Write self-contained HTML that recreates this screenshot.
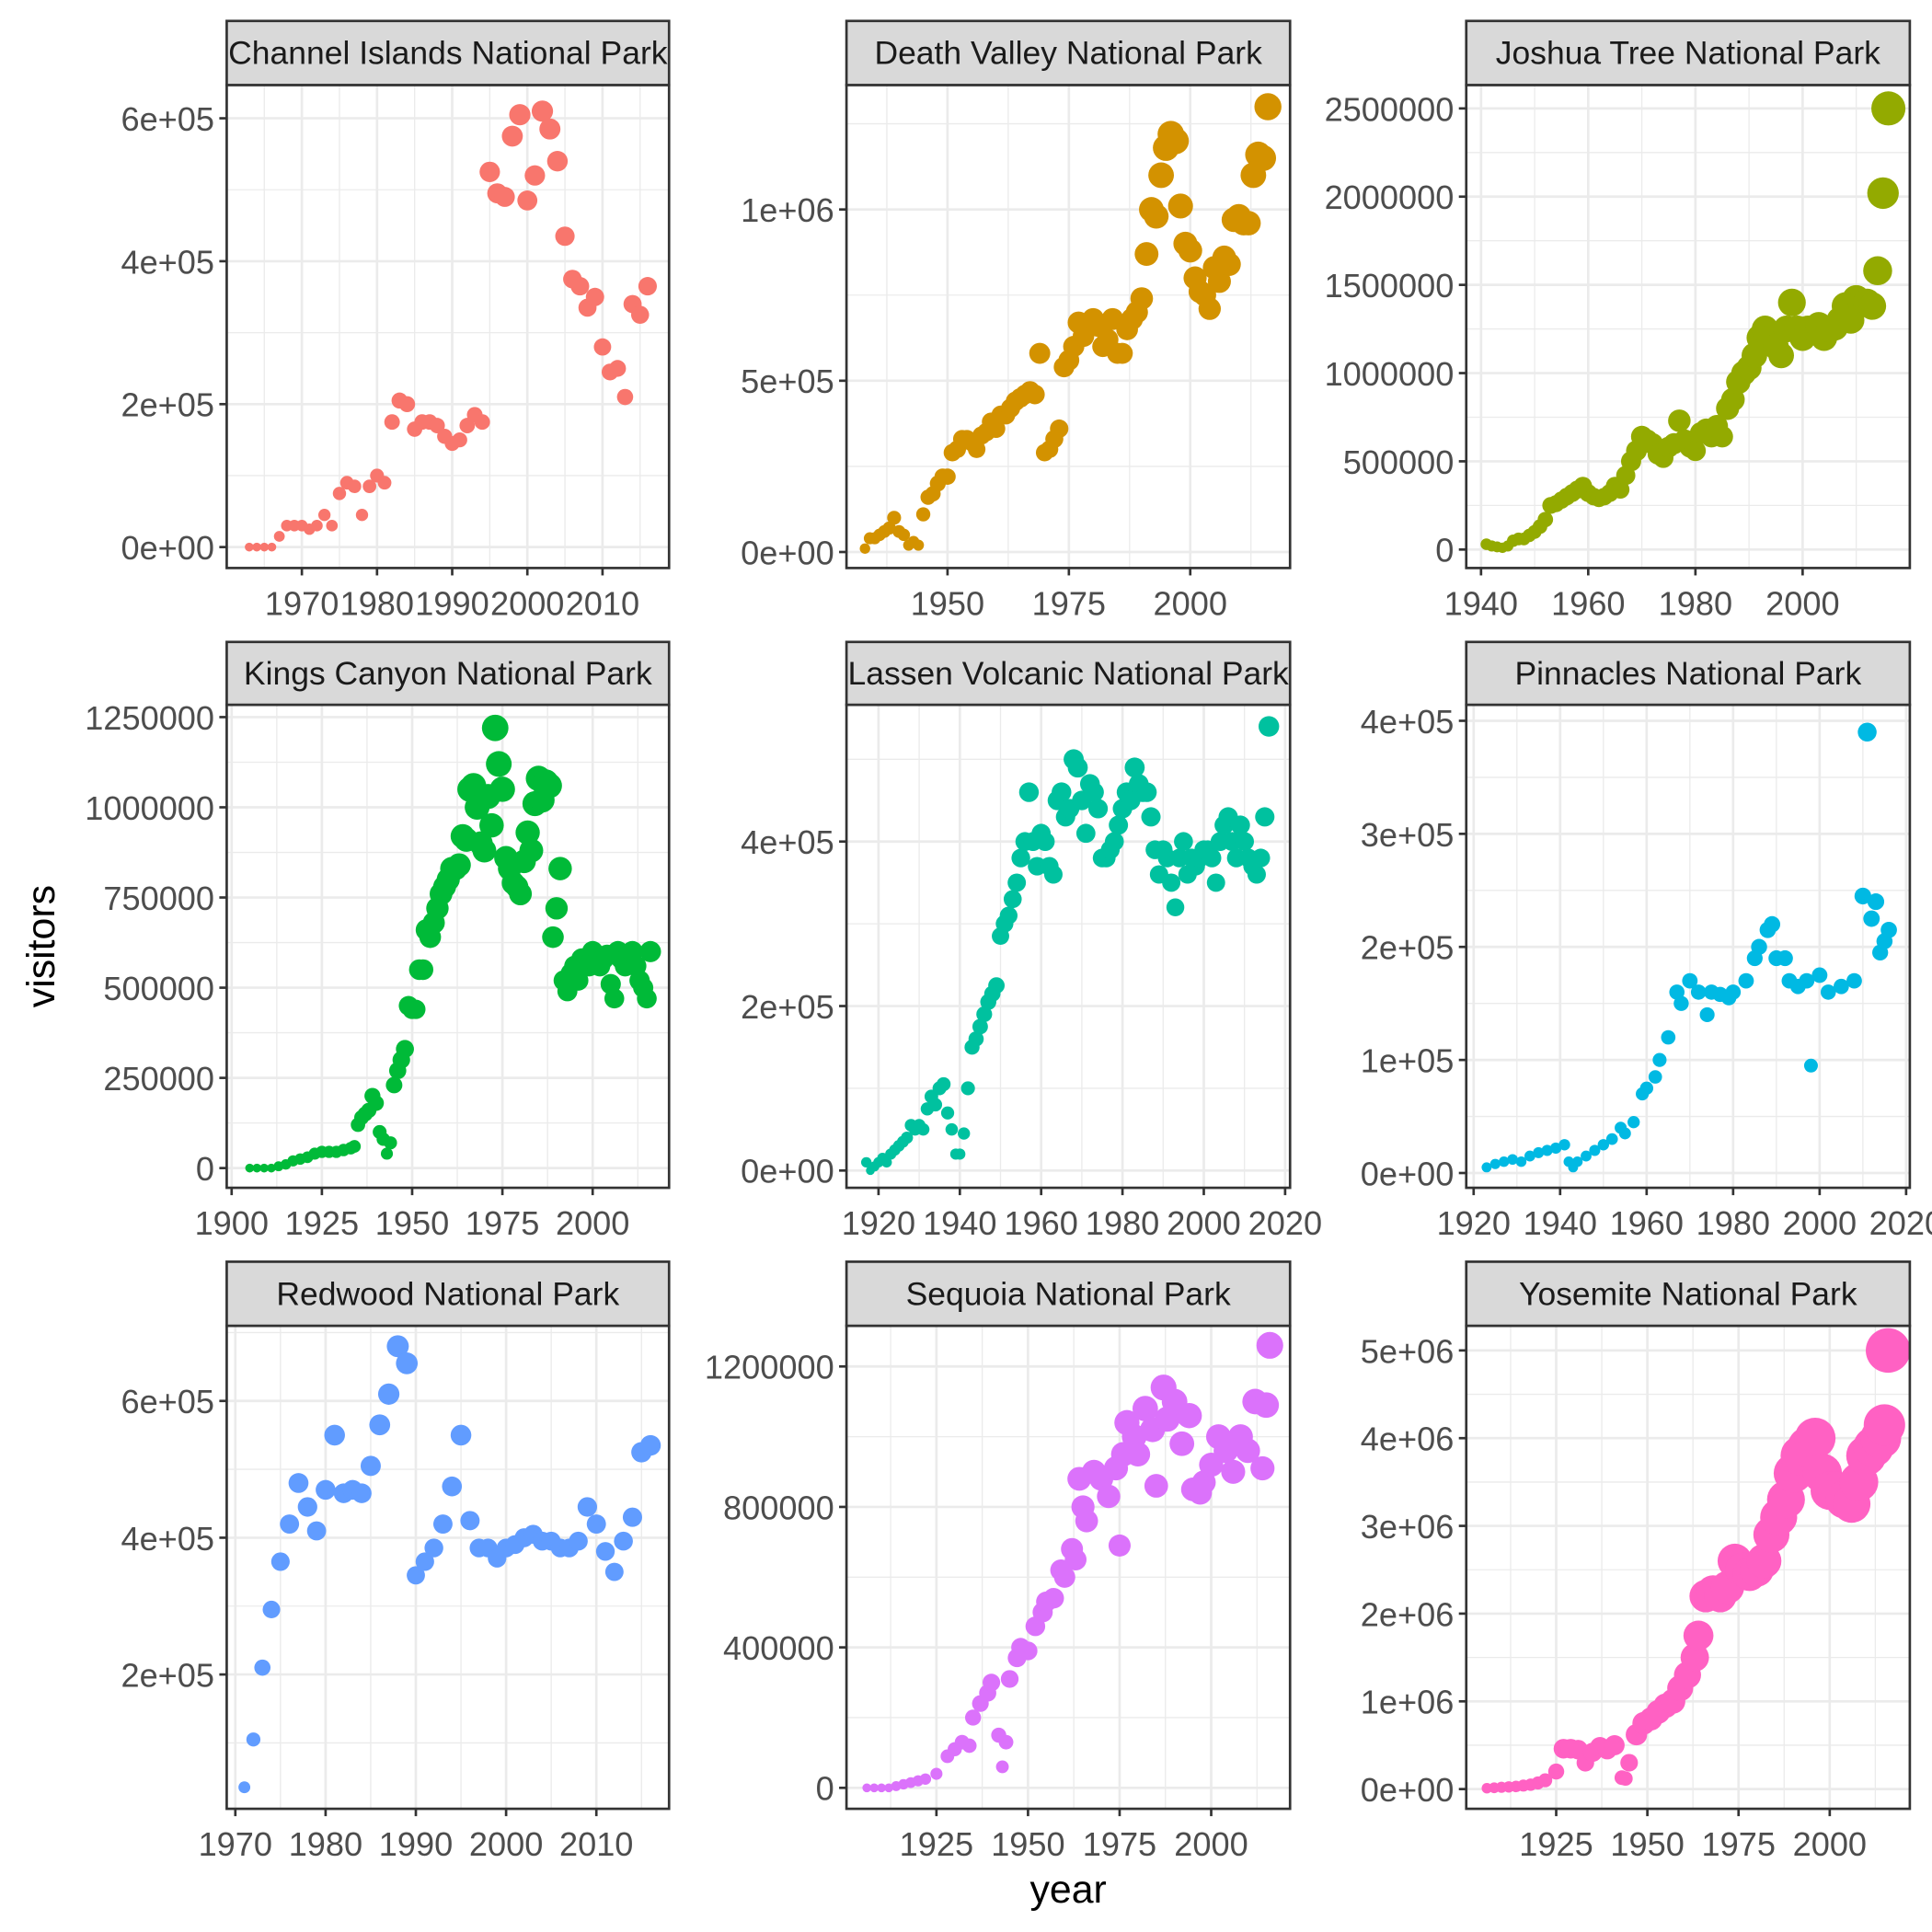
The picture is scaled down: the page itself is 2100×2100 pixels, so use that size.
<!DOCTYPE html>
<html><head><meta charset="utf-8"><style>
html,body{margin:0;padding:0;background:#fff;}
svg{display:block;font-family:"Liberation Sans",Arial,sans-serif;}
</style></head><body>
<svg id="chart" width="2100" height="2100" viewBox="0 0 1568 1568" xmlns="http://www.w3.org/2000/svg">
<rect x="0" y="0" width="1568" height="1568" fill="#fff"/>
<text x="0" y="0" transform="translate(44,768) rotate(-90)" text-anchor="middle" font-size="32" fill="#000">visitors</text>
<text x="867" y="1544" text-anchor="middle" font-size="32" fill="#000">year</text>
</svg>
<script>
// ---- data ----
const chYears=[1963,1964,1965,1966,1967,1968,1969,1970,1971,1972,1973,1974,1975,1976,1977,1978,1979,1980,1981,1982,1983,1984,1985,1986,1987,1988,1989,1990,1991,1992,1993,1994,1995,1996,1997,1998,1999,2000,2001,2002,2003,2004,2005,2006,2007,2008,2009,2010,2011,2012,2013,2014,2015,2016];
const chVisitors=[0,0,0,0,15000,30000,30000,30000,25000,30000,45000,30000,75000,90000,85000,45000,85000,100000,90000,175000,205000,200000,165000,175000,175000,170000,155000,145000,150000,170000,185000,175000,525000,495000,490000,575000,605000,485000,520000,610000,585000,540000,435000,375000,365000,335000,350000,280000,245000,250000,210000,340000,325000,365000];
const dvYears=[1933,1934,1935,1936,1937,1938,1939,1940,1941,1942,1943,1944,1945,1946,1947,1948,1949,1950,1951,1952,1953,1954,1955,1956,1957,1958,1959,1960,1961,1962,1963,1964,1965,1966,1967,1968,1969,1970,1971,1972,1973,1974,1975,1976,1977,1978,1979,1980,1981,1982,1983,1984,1985,1986,1987,1988,1989,1990,1991,1992,1993,1994,1995,1996,1997,1998,1999,2000,2001,2002,2003,2004,2005,2006,2007,2008,2009,2010,2011,2012,2013,2014,2015,2016];
const dvVisitors=[10000,40000,40000,50000,60000,70000,100000,60000,50000,20000,30000,20000,110000,160000,170000,200000,220000,220000,290000,300000,330000,330000,320000,300000,340000,350000,380000,360000,400000,400000,420000,440000,450000,460000,470000,460000,580000,290000,300000,330000,360000,540000,560000,600000,670000,630000,660000,680000,660000,600000,620000,680000,580000,580000,650000,680000,700000,740000,870000,1000000,980000,1100000,1180000,1220000,1200000,1010000,900000,880000,800000,760000,750000,710000,830000,790000,860000,840000,970000,980000,960000,960000,1100000,1160000,1150000,1300000];
const jtYears=[1941,1942,1943,1944,1945,1946,1947,1948,1949,1950,1951,1952,1953,1954,1955,1956,1957,1958,1959,1960,1961,1962,1963,1964,1965,1966,1967,1968,1969,1970,1971,1972,1973,1974,1975,1976,1977,1978,1979,1980,1981,1982,1983,1984,1985,1986,1987,1988,1989,1990,1991,1992,1993,1994,1995,1996,1997,1998,1999,2000,2001,2002,2003,2004,2005,2006,2007,2008,2009,2010,2011,2012,2013,2014,2015,2016];
const jtVisitors=[30000,20000,15000,10000,20000,50000,60000,60000,80000,100000,130000,170000,250000,260000,280000,300000,320000,340000,360000,320000,300000,290000,300000,320000,360000,340000,420000,500000,560000,640000,620000,600000,540000,520000,580000,600000,730000,620000,580000,560000,660000,680000,640000,700000,640000,800000,850000,950000,1000000,1030000,1100000,1200000,1250000,1200000,1150000,1100000,1250000,1400000,1250000,1200000,1250000,1250000,1270000,1200000,1250000,1260000,1300000,1380000,1300000,1420000,1400000,1400000,1380000,1580000,2020000,2500000];
const kcYears=[1905,1907,1909,1911,1913,1915,1917,1919,1921,1923,1925,1927,1929,1931,1933,1934,1935,1936,1937,1938,1939,1940,1941,1942,1943,1944,1945,1946,1947,1948,1949,1950,1951,1952,1953,1954,1955,1956,1957,1958,1959,1960,1961,1962,1963,1964,1965,1966,1967,1968,1969,1970,1971,1972,1973,1974,1975,1976,1977,1978,1979,1980,1981,1982,1983,1984,1985,1986,1987,1988,1989,1990,1991,1992,1993,1994,1995,1996,1997,1998,1999,2000,2001,2002,2003,2004,2005,2006,2007,2008,2009,2010,2011,2012,2013,2014,2015,2016];
const kcVisitors=[0,0,0,0,5000,10000,20000,25000,30000,40000,45000,45000,45000,50000,55000,60000,120000,140000,150000,160000,200000,180000,100000,80000,40000,70000,230000,270000,300000,330000,450000,440000,440000,550000,550000,660000,640000,680000,720000,760000,780000,800000,830000,830000,840000,920000,910000,1050000,1060000,1000000,900000,880000,1030000,950000,1220000,1120000,1050000,860000,830000,790000,780000,760000,850000,930000,880000,1010000,1080000,1020000,1070000,1060000,640000,720000,830000,520000,490000,540000,560000,520000,580000,560000,560000,600000,570000,560000,580000,590000,510000,470000,600000,580000,560000,590000,600000,560000,520000,500000,470000,600000];
const lvYears=[1917,1918,1919,1920,1921,1922,1923,1924,1925,1926,1927,1928,1929,1930,1931,1932,1933,1934,1935,1936,1937,1938,1939,1940,1941,1942,1943,1944,1945,1946,1947,1948,1949,1950,1951,1952,1953,1954,1955,1956,1957,1958,1959,1960,1961,1962,1963,1964,1965,1966,1967,1968,1969,1970,1971,1972,1973,1974,1975,1976,1977,1978,1979,1980,1981,1982,1983,1984,1985,1986,1987,1988,1989,1990,1991,1992,1993,1994,1995,1996,1997,1998,1999,2000,2001,2002,2003,2004,2005,2006,2007,2008,2009,2010,2011,2012,2013,2014,2015,2016];
const lvVisitors=[10000,0,5000,10000,15000,10000,20000,25000,30000,35000,40000,55000,50000,55000,50000,75000,90000,80000,100000,105000,70000,50000,20000,20000,45000,100000,150000,160000,175000,190000,205000,215000,225000,285000,300000,310000,330000,350000,380000,400000,460000,400000,370000,410000,400000,370000,360000,450000,460000,430000,440000,500000,490000,450000,410000,470000,460000,440000,380000,380000,390000,400000,420000,440000,460000,450000,490000,470000,460000,460000,430000,390000,360000,390000,380000,350000,320000,380000,400000,360000,380000,370000,380000,390000,390000,380000,350000,400000,420000,430000,400000,380000,420000,400000,380000,370000,360000,380000,430000,540000];
const pnYears=[1923,1925,1927,1929,1931,1933,1935,1937,1939,1941,1942,1943,1944,1946,1948,1950,1952,1954,1955,1957,1959,1960,1962,1963,1965,1967,1968,1970,1972,1974,1975,1977,1979,1980,1983,1985,1986,1988,1989,1990,1992,1993,1995,1997,1998,2000,2002,2005,2008,2010,2011,2012,2013,2014,2015,2016];
const pnVisitors=[5000,8000,10000,12000,10000,15000,18000,20000,22000,25000,10000,5000,10000,15000,20000,25000,30000,40000,35000,45000,70000,75000,85000,100000,120000,160000,150000,170000,160000,140000,160000,158000,155000,160000,170000,190000,200000,215000,220000,190000,190000,170000,165000,170000,95000,175000,160000,165000,170000,245000,390000,225000,240000,195000,205000,215000];
const rwYears=[1971,1972,1973,1974,1975,1976,1977,1978,1979,1980,1981,1982,1983,1984,1985,1986,1987,1988,1989,1990,1991,1992,1993,1994,1995,1996,1997,1998,1999,2000,2001,2002,2003,2004,2005,2006,2007,2008,2009,2010,2011,2012,2013,2014,2015,2016];
const rwVisitors=[35000,105000,210000,295000,365000,420000,480000,445000,410000,470000,550000,465000,470000,465000,505000,565000,610000,680000,655000,345000,365000,385000,420000,475000,550000,425000,385000,385000,370000,385000,390000,400000,405000,395000,395000,385000,385000,395000,445000,420000,380000,350000,395000,430000,525000,535000];
const sqYears=[1906,1908,1910,1912,1914,1916,1918,1920,1922,1925,1928,1930,1932,1934,1935,1937,1939,1940,1942,1943,1944,1945,1947,1948,1950,1952,1954,1955,1957,1959,1960,1962,1963,1964,1965,1966,1968,1970,1972,1974,1975,1976,1977,1979,1980,1982,1984,1985,1987,1988,1990,1992,1994,1995,1997,1998,2000,2002,2004,2006,2008,2010,2012,2014,2015,2016];
const sqVisitors=[0,0,0,0,5000,10000,15000,20000,25000,40000,90000,110000,130000,120000,200000,240000,270000,300000,150000,60000,130000,310000,370000,400000,390000,460000,500000,530000,540000,620000,600000,680000,650000,880000,800000,760000,900000,880000,830000,910000,690000,950000,1040000,1000000,950000,1080000,1020000,860000,1140000,1050000,1100000,980000,1060000,850000,840000,870000,920000,1000000,960000,900000,1000000,960000,1100000,910000,1090000,1260000];
const ysYears=[1906,1908,1910,1912,1914,1916,1918,1920,1922,1925,1927,1929,1931,1933,1935,1937,1939,1941,1943,1944,1945,1947,1949,1951,1953,1955,1957,1959,1961,1963,1964,1966,1968,1970,1972,1974,1976,1978,1980,1982,1984,1986,1988,1990,1992,1994,1996,1998,2000,2002,2004,2006,2008,2010,2012,2014,2015,2016];
const ysVisitors=[10000,15000,20000,25000,30000,40000,50000,70000,100000,200000,460000,460000,450000,300000,420000,480000,450000,500000,130000,120000,300000,620000,750000,800000,880000,950000,1000000,1150000,1300000,1500000,1750000,2200000,2250000,2200000,2300000,2600000,2500000,2450000,2500000,2600000,2900000,3100000,3300000,3600000,3800000,3900000,4000000,3600000,3400000,3400000,3300000,3250000,3500000,3800000,3900000,4000000,4150000,5000000];

const parkNames=["Channel Islands National Park","Death Valley National Park","Joshua Tree National Park","Kings Canyon National Park","Lassen Volcanic National Park","Pinnacles National Park","Redwood National Park","Sequoia National Park","Yosemite National Park"];
const parkColors=["#F8766D","#D39200","#93AA00","#00BA38","#00C19F","#00B9E3","#619CFF","#DB72FB","#FF61C3"];
const xTickValues=[[1970,1980,1990,2000,2010],[1950,1975,2000],[1940,1960,1980,2000],[1900,1925,1950,1975,2000],[1920,1940,1960,1980,2000,2020],[1920,1940,1960,1980,2000,2020],[1970,1980,1990,2000,2010],[1925,1950,1975,2000],[1925,1950,1975,2000]];
const yTickValues=[[0,200000,400000,600000],[0,500000,1000000],[0,500000,1000000,1500000,2000000,2500000],[0,250000,500000,750000,1000000,1250000],[0,200000,400000],[0,100000,200000,300000,400000],[200000,400000,600000],[0,400000,800000,1200000],[0,1000000,2000000,3000000,4000000,5000000]];
const yTickLabels=[["0e+00","2e+05","4e+05","6e+05"],["0e+00","5e+05","1e+06"],["0","500000","1000000","1500000","2000000","2500000"],["0","250000","500000","750000","1000000","1250000"],["0e+00","2e+05","4e+05"],["0e+00","1e+05","2e+05","3e+05","4e+05"],["2e+05","4e+05","6e+05"],["0","400000","800000","1200000"],["0e+00","1e+06","2e+06","3e+06","4e+06","5e+06"]];
const parkYears=[chYears,dvYears,jtYears,kcYears,lvYears,pnYears,rwYears,sqYears,ysYears];
const parkVisitors=[chVisitors,dvVisitors,jtVisitors,kcVisitors,lvVisitors,pnVisitors,rwVisitors,sqVisitors,ysVisitors];

// ---- layout ----
const colX=[[184,543],[687,1047],[1190,1550]];
const rowY=[[17,69,461],[521,572,964],[1024,1076,1468]];
const xCal=[[1970,245,2010,489],[1950,769,2000,966],[1940,1202,2000,1463],[1900,188,2000,481],[1920,713,2020,1043],[1920,1196,2020,1547],[1970,191,2010,484],[1925,760,2000,983],[1925,1263,2000,1485]];
const yCal=[[0,444,600000,96],[0,448,1000000,170],[0,446,2500000,88],[0,948,1250000,582],[0,950,400000,683],[0,952,400000,585],[200000,1359,600000,1137],[0,1451,1200000,1109],[0,1452,5000000,1096]];

const NS="http://www.w3.org/2000/svg";
const svg=document.getElementById('chart');
function mk(tag,attrs,parent){const e=document.createElementNS(NS,tag);for(const k in attrs)e.setAttribute(k,attrs[k]);(parent||svg).appendChild(e);return e;}
function lin(c){return v=>c[1]+(v-c[0])*(c[3]-c[1])/(c[2]-c[0]);}
function radius(v){return 3.6+Math.sqrt(Math.max(v,0)/5000000)*14.5;}

for(let i=0;i<9;i++){
  const [x0,x1]=colX[i%3];const [s0,p0,p1]=rowY[Math.floor(i/3)];
  const xs=lin(xCal[i]), ys=lin(yCal[i]);
  const g=mk('g',{});
  
  
  const cid='clip'+i;
  const cp=mk('clipPath',{id:cid},g);mk('rect',{x:x0,y:p0,width:x1-x0,height:p1-p0},cp);
  const scid='sclip'+i;
  const scp=mk('clipPath',{id:scid},g);mk('rect',{x:x0,y:s0,width:x1-x0,height:p0-s0},scp);
  mk('rect',{x:x0,y:p0,width:x1-x0,height:p1-p0,fill:'#fff'},g);
  const grid=mk('g',{'clip-path':'url(#'+cid+')'},g);
  
  
  const xt=xTickValues[i], xst=xt[1]-xt[0];
  for(let v=xt[0]-3*xst;v<=xt[xt.length-1]+3*xst;v+=xst/2){
    const px=xs(v);if(px<x0||px>x1)continue;
    const major=(Math.round((v-xt[0])/xst*2)%2===0);
    mk('line',{x1:px,x2:px,y1:p0,y2:p1,stroke:'#EBEBEB','stroke-width':major?2:1},grid);
  }
  const yt=yTickValues[i], yst=yt[1]-yt[0];
  for(let v=yt[0]-3*yst;v<=yt[yt.length-1]+3*yst;v+=yst/2){
    const py=ys(v);if(py<p0||py>p1)continue;
    const major=(Math.round((v-yt[0])/yst*2)%2===0);
    mk('line',{x1:x0,x2:x1,y1:py,y2:py,stroke:'#EBEBEB','stroke-width':major?2:1},grid);
  }
  const pts=mk('g',{'clip-path':'url(#'+cid+')'},g);
  const yrs=parkYears[i], vis=parkVisitors[i];
  for(let k=0;k<yrs.length;k++){
    const c=mk('circle',{cx:xs(yrs[k]),cy:ys(vis[k]),r:radius(vis[k]),fill:parkColors[i]},pts);
    
    
  }
  mk('rect',{x:x0,y:p0,width:x1-x0,height:p1-p0,fill:'none',stroke:'#333','stroke-width':2},g);
  const st=mk('rect',{x:x0,y:s0,width:x1-x0,height:p0-s0,fill:'#D9D9D9',stroke:'#333','stroke-width':2},g);
  
  
  const tt=mk('text',{x:(x0+x1)/2,y:(s0+p0)/2+9,'text-anchor':'middle','font-size':26.5,fill:'#1a1a1a','clip-path':'url(#'+scid+')'},g);
  tt.textContent=parkNames[i];
  
  
  for(let k=0;k<xt.length;k++){
    const px=xs(xt[k]);
    mk('line',{x1:px,x2:px,y1:p1,y2:p1+6,stroke:'#333','stroke-width':2},g);
    const t=mk('text',{x:px,y:p1+38,'text-anchor':'middle','font-size':27,fill:'#4D4D4D'},g);
    t.textContent=String(xt[k]);
    
    
  }
  for(let k=0;k<yt.length;k++){
    const py=ys(yt[k]);
    mk('line',{x1:x0-6,x2:x0,y1:py,y2:py,stroke:'#333','stroke-width':2},g);
    const t=mk('text',{x:x0-10,y:py+10,'text-anchor':'end','font-size':27,fill:'#4D4D4D'},g);
    t.textContent=yTickLabels[i][k];
    
    
  }
}
</script>
</body></html>
